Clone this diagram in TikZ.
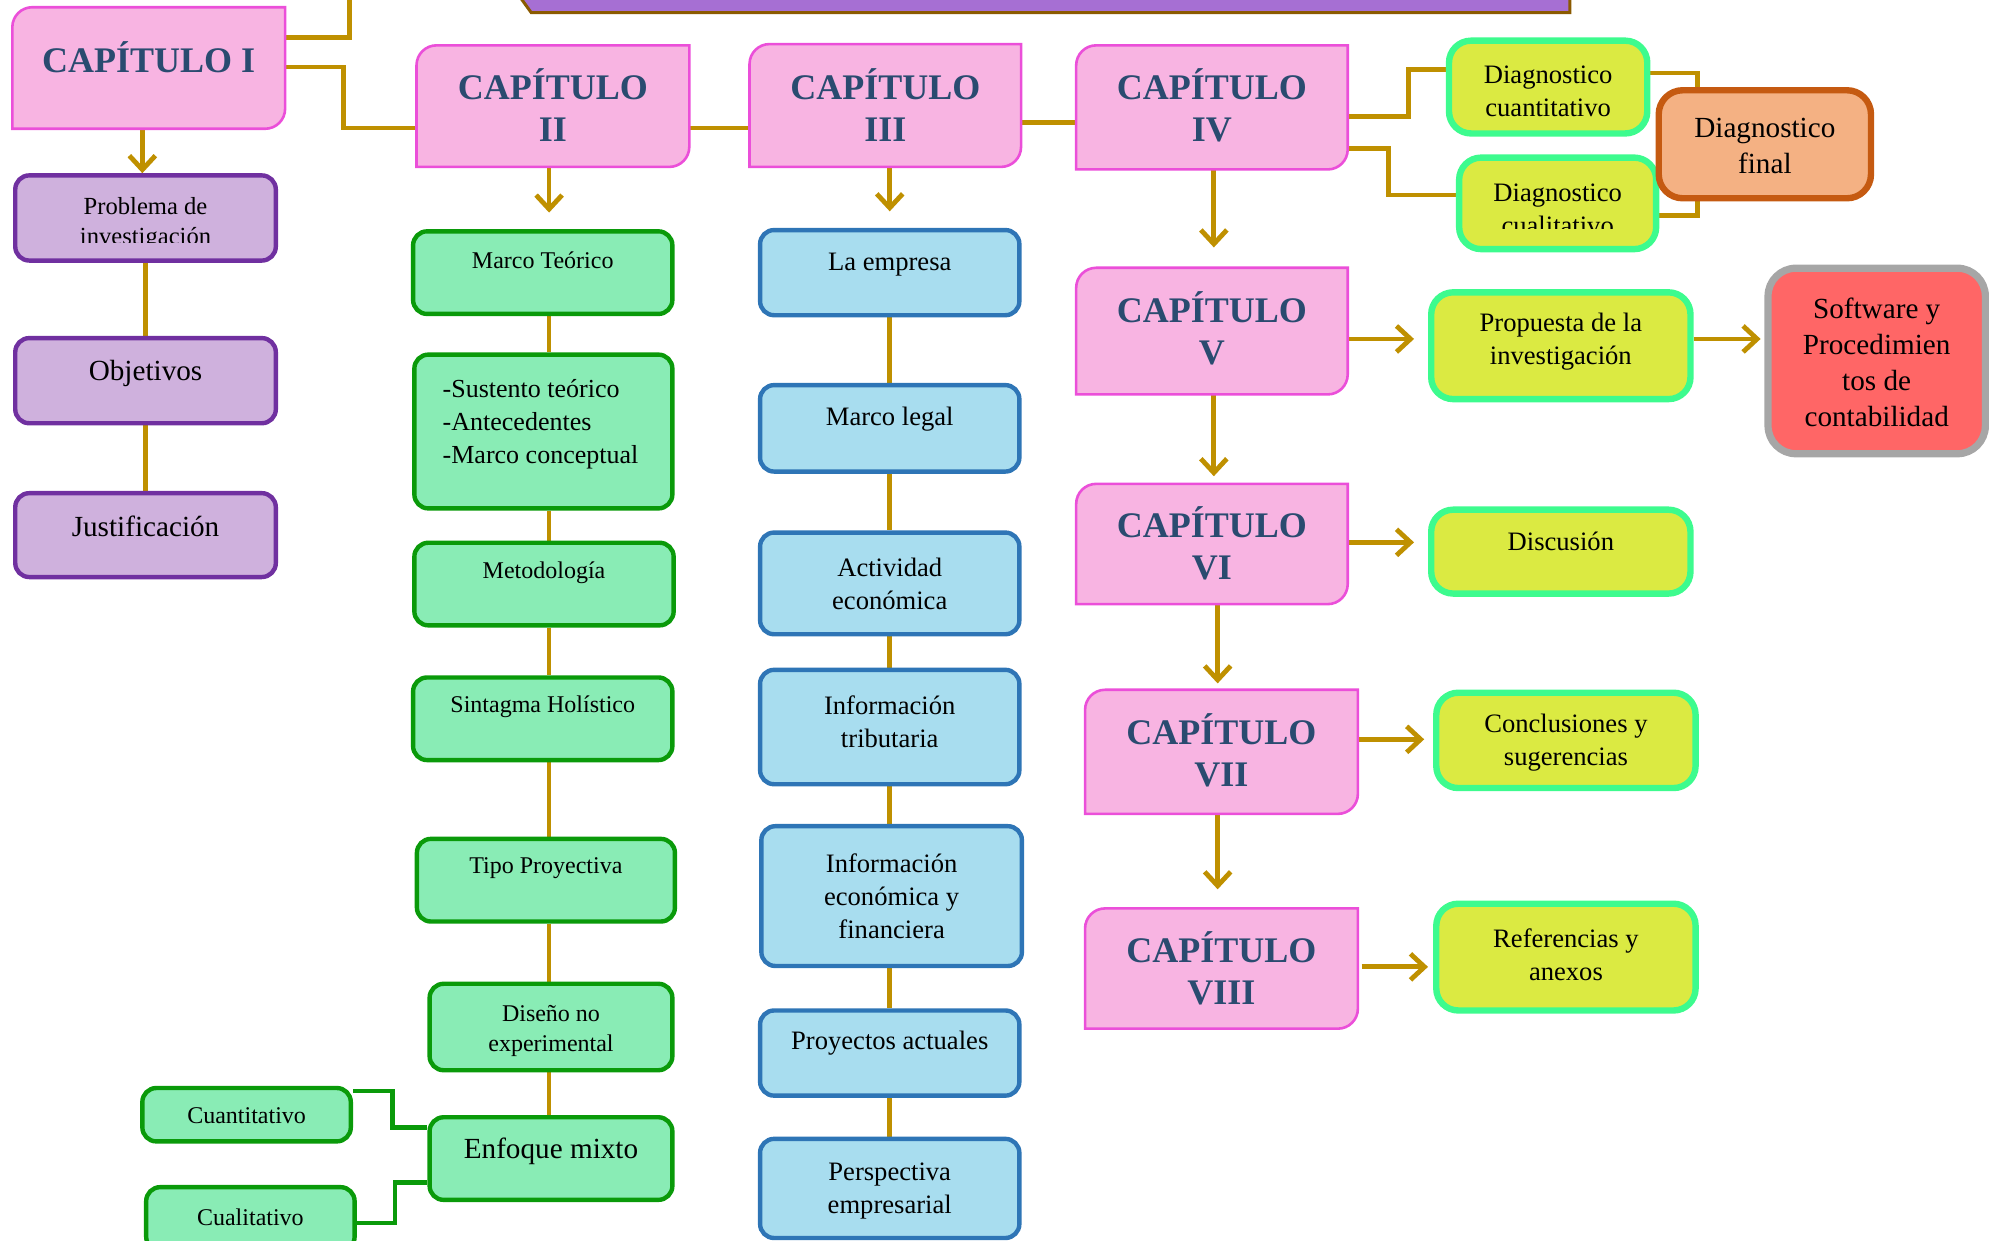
\documentclass[tikz,border=0pt]{standalone}
\usepackage{fontspec}
\setmainfont{Liberation Serif}
\usetikzlibrary{arrows.meta,calc,backgrounds}
\definecolor{gold}{HTML}{BF9000}
\definecolor{chfill}{HTML}{F8B4E2}
\definecolor{chline}{HTML}{EB4FD9}
\definecolor{chtext}{HTML}{2A4B70}
\definecolor{pfill}{HTML}{CFB1DD}
\definecolor{pline}{HTML}{7030A0}
\definecolor{gfill}{HTML}{89ECB5}
\definecolor{gline}{HTML}{0A9A0A}
\definecolor{bfill}{HTML}{A8DDEF}
\definecolor{bline}{HTML}{2E75B6}
\definecolor{yfill}{HTML}{DBEA42}
\definecolor{yline}{HTML}{3DFB8E}
\definecolor{ofill}{HTML}{F4B183}
\definecolor{oline}{HTML}{C55A11}
\definecolor{rfill}{HTML}{FF6666}
\definecolor{rline}{HTML}{A6A6A6}
\definecolor{banfill}{HTML}{A66FD3}
\definecolor{banline}{HTML}{8B5A00}
\tikzset{
  conn/.style={draw=gold, line width=2.4pt},
  gconn/.style={draw=gline, line width=2.4pt},
  arr/.style={conn, -{Straight Barb[length=7pt,width=13pt]}},
  basebox/.style={rectangle, rounded corners=7pt, inner sep=0pt, line width=2.2pt},
  pbox/.style={basebox, fill=pfill, draw=pline},
  gbox/.style={basebox, fill=gfill, draw=gline},
  bbox/.style={basebox, fill=bfill, draw=bline},
  ybox/.style={basebox, rounded corners=11pt, line width=3.2pt, fill=yfill, draw=yline},
  obox/.style={basebox, rounded corners=12pt, line width=3.2pt, fill=ofill, draw=oline},
  rbox/.style={basebox, rounded corners=14pt, line width=3.6pt, fill=rfill, draw=rline},
  chapnode/.style={rectangle, inner sep=0pt, draw=none},
  chapshape/.style={fill=chfill, draw=chline, line width=1.3pt},
  ctxt/.style={inner sep=0pt, align=center, text=chtext, font=\bfseries\fontsize{18}{21}\selectfont},
  t12/.style={inner sep=0pt, align=center, font=\fontsize{12}{15.3}\selectfont},
  t13/.style={inner sep=0pt, align=center, font=\fontsize{13.3}{16.5}\selectfont},
  t14/.style={inner sep=0pt, align=center, font=\fontsize{14.6}{18}\selectfont},
}
\newcommand\bx[9]{%
  \node[#2, minimum width={(#5-#3)*0.6356pt}, minimum height={(#6-#4)*0.6356pt}] (#1) at ({(#3+#5)/2},{(#4+#6)/2}) {};
  \node[#8] (#1t) at ({(#3+#5)/2},#7) {#9};}
\newcommand\chap[7]{%
  \node[chapnode, minimum width={(#4-#2)*0.6356pt}, minimum height={(#5-#3)*0.6356pt}] (#1) at ({(#2+#4)/2},{(#3+#5)/2}) {};
  \draw[chapshape] (#1.north east) -- ([xshift=10pt]#1.north west) arc[start angle=90,end angle=180,radius=10pt]
     -- (#1.south west) -- ([xshift=-10pt]#1.south east) arc[start angle=270,end angle=360,radius=10pt] -- cycle;
  \node[ctxt] (#1t) at ({(#2+#4)/2},#6) {#7};}
\begin{document}
\begin{tikzpicture}[x=0.6356pt,y=-0.6356pt]
\useasboundingbox (0,0) rectangle (1568,976);
% banner
\draw[fill=banfill, draw=banline, line width=1.5pt] (405,-8) -- (1235,-8) -- (1235,10) -- (418,10) -- cycle;
% chapters
\chap{cap1}{10}{6}{224}{101}{45}{CAPÍTULO I}
\chap{cap2}{328}{36}{542}{131}{82.5}{CAPÍTULO\\II}
\chap{cap3}{590}{35}{803}{131}{82.5}{CAPÍTULO\\III}
\chap{cap4}{847}{36}{1060}{133}{82.5}{CAPÍTULO\\IV}
\chap{cap5}{847}{211}{1060}{310}{258}{CAPÍTULO\\V}
\chap{cap6}{847}{381}{1060}{475}{427.5}{CAPÍTULO\\VI}
\chap{cap7}{854}{543}{1068}{640}{590.5}{CAPÍTULO\\VII}
\chap{cap8}{854}{715}{1068}{809}{761.5}{CAPÍTULO\\VIII}
% column 1
\node[pbox, minimum width={205*0.6356pt}, minimum height={67*0.6356pt}] (prob) at (114.5,171.5) {};
\begin{scope}
  \clip (12,138) rectangle (217,191);
  \node[inner sep=0pt, align=center, font=\fontsize{12.3}{15.3}\selectfont] (probt) at (114.5,176) {Problema de\\investigación};
\end{scope}
\bx{obj}{pbox}{12}{266}{217}{333}{294}{t14}{Objetivos}
\bx{jus}{pbox}{12}{388}{217}{454}{414}{t14}{Justificación}
% column 2
\bx{mt}{gbox}{325}{182}{529}{247}{205}{t12}{Marco Teórico}
\node[gbox, minimum width={203*0.6356pt}, minimum height={121*0.6356pt}] (sus) at (427.5,339.5) {};
\node[inner sep=0pt, align=left, anchor=west, font=\fontsize{13}{16.5}\selectfont] (sust) at (348,334) {-Sustento teórico\\-Antecedentes\\-Marco conceptual};
\bx{met}{gbox}{326}{427}{530}{492}{451}{t12}{Metodología}
\bx{sin}{gbox}{325}{533}{529}{598}{556}{t12}{Sintagma Holístico}
\bx{tip}{gbox}{328}{660}{531}{725}{683}{t12}{Tipo Proyectiva}
\bx{dis}{gbox}{338}{774}{529}{842}{811}{t12}{Diseño no\\experimental}
\bx{enf}{gbox}{338}{879}{529}{944}{906}{t14}{Enfoque mixto}
\bx{cuan}{gbox}{112}{856}{276}{898}{878}{t12}{Cuantitativo}
\bx{cual}{gbox}{115}{934}{279}{984}{958}{t12}{Cualitativo}
% column 3
\bx{emp}{bbox}{598}{181}{802}{248}{208}{t13}{La empresa}
\bx{leg}{bbox}{598}{303}{802}{371}{330}{t13}{Marco legal}
\bx{act}{bbox}{598}{419}{802}{499}{459}{t13}{Actividad\\económica}
\bx{tri}{bbox}{598}{527}{802}{617}{568}{t13}{Información\\tributaria}
\bx{eco}{bbox}{599}{650}{804}{760}{705}{t13}{Información\\económica y\\financiera}
\bx{pro}{bbox}{598}{795}{802}{862}{821}{t13}{Proyectos actuales}
\bx{per}{bbox}{598}{896}{802}{974}{937}{t13}{Perspectiva\\empresarial}
% right side
\bx{dq}{ybox}{1140}{32}{1296}{105}{72}{t13}{Diagnostico\\cuantitativo}
\node[ybox, minimum width={155*0.6356pt}, minimum height={72*0.6356pt}] (dl) at (1225.5,160) {};
\begin{scope}
  \clip (1148,124) rectangle (1303,180);
  \node[t13] (dlt) at (1225.5,165) {Diagnostico\\cualitativo};
\end{scope}
\bx{df}{obox}{1305}{71}{1472}{156}{115}{t14}{Diagnostico\\final}
\bx{prop}{ybox}{1126}{230}{1330}{314}{269}{t13}{Propuesta de la\\investigación}
\bx{soft}{rbox}{1391}{211}{1562}{357}{285}{t14}{Software y\\Procedimien\\tos de\\contabilidad}
\bx{disc}{ybox}{1126}{401}{1330}{467}{426}{t13}{Discusión}
\bx{conc}{ybox}{1130}{545}{1334}{620}{584}{t13}{Conclusiones y\\sugerencias}
\bx{ref}{ybox}{1130}{711}{1334}{795}{751}{t13}{Referencias y\\anexos}
% connectors
\coordinate (topend) at (275,-10);
\coordinate (c2x) at (432,0);
\coordinate (c3x) at (700,0);
\begin{scope}[on background layer]
  \draw[conn] ($(cap1.north east)+(0,24)$) -| (topend);
  \draw[conn] ($(cap1.north east)+(0,47)$) -- ++(46,0) |- ($(cap2.north west)+(0,65)$);
  \draw[conn] ($(cap2.north east)+(0,65)$) coordinate (p23) -- (p23 -| cap3.west);
  \draw[conn] ($(cap3.north east)+(0,62)$) coordinate (p34) -- (p34 -| cap4.west);
  \draw[conn] ($(cap4.north east)+(0,56)$) -- ++(48,0) |- ($(dq.north west)+(0,25)$);
  \draw[conn] ($(cap4.north east)+(0,81)$) -- ++(32,0) |- ($(dl.north west)+(0,32)$);
  \draw[conn] ($(dq.north east)+(0,28)$) -- ++(37,0) |- ($(dl.north east)+(0,48)$);
  % column 1
  \draw[arr] (cap1.south -| 112,0) -- (prob.north -| 112,0);
  \draw[conn] (prob.south) -- (obj.north);
  \draw[conn] (obj.south) -- (jus.north);
  % column 2
  \draw[arr] (c2x |- cap2.south) -- ($(c2x |- mt.north)+(0,-13)$);
  \draw[conn] (c2x |- mt.south) -- (c2x |- sus.north);
  \draw[conn] (c2x |- sus.south) -- (c2x |- met.north);
  \draw[conn] (c2x |- met.south) -- (c2x |- sin.north);
  \draw[conn] (c2x |- sin.south) -- (c2x |- tip.north);
  \draw[conn] (c2x |- tip.south) -- (c2x |- dis.north);
  \draw[conn] (c2x |- dis.south) -- (c2x |- enf.north);
  \draw[gconn] ($(cuan.north east)+(0,4)$) -- ++(31,0) |- ($(enf.north west)+(0,10)$);
  \draw[gconn] ($(cual.north east)+(0,30)$) -- ++(30,0) |- ($(enf.north west)+(0,53)$);
  % column 3
  \draw[arr] (c3x |- cap3.south) -- ($(c3x |- emp.north)+(0,-13)$);
  \draw[conn] (c3x |- emp.south) -- (c3x |- leg.north);
  \draw[conn] (c3x |- leg.south) -- (c3x |- act.north);
  \draw[conn] (c3x |- act.south) -- (c3x |- tri.north);
  \draw[conn] (c3x |- tri.south) -- (c3x |- eco.north);
  \draw[conn] (c3x |- eco.south) -- (c3x |- pro.north);
  \draw[conn] (c3x |- pro.south) -- (c3x |- per.north);
  % chapters chain
  \draw[arr] (cap4.south -| 955,0) -- ($(cap5.north -| 955,0)+(0,-16)$);
  \draw[arr] (cap5.south -| 955,0) -- ($(cap6.north -| 955,0)+(0,-6)$);
  \draw[arr] (cap6.south -| 958,0) -- ($(cap7.north -| 958,0)+(0,-5)$);
  \draw[arr] (cap7.south -| 958,0) -- ($(cap8.north -| 958,0)+(0,-15)$);
  % horizontal arrows
  \draw[arr] ($(cap5.north east)+(0,56)$) coordinate (p5) -- ($(p5 -| prop.west)+(-11,0)$);
  \draw[arr] (p5 -| prop.east) -- ($(p5 -| soft.west)+(-3,0)$);
  \draw[arr] ($(cap6.north east)+(0,46)$) coordinate (p6) -- ($(p6 -| disc.west)+(-11,0)$);
  \draw[arr] ($(cap7.north east)+(0,39)$) coordinate (p7) -- ($(p7 -| conc.west)+(-7,0)$);
  \draw[arr] ($(cap8.north east)+(3,46)$) coordinate (p8) -- ($(p8 -| ref.west)+(-4,0)$);
\end{scope}
\end{tikzpicture}
\end{document}
